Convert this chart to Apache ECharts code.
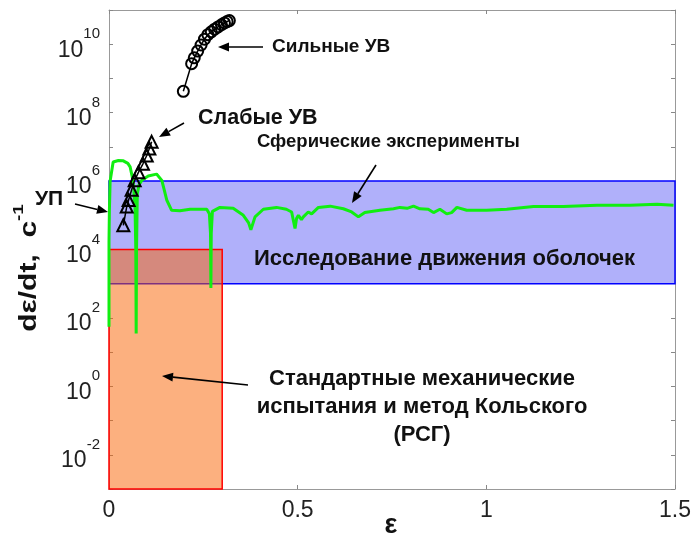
<!DOCTYPE html>
<html><head><meta charset="utf-8">
<script src="https://cdn.jsdelivr.net/npm/echarts@6/dist/echarts.min.js"></script>
<style>html,body{margin:0;padding:0;background:#fff}#c{width:697px;height:540px}</style>
</head><body><div id="c"></div>
<script>
// ---- data ----
const xTicks = [0, 0.5, 1, 1.5];
const yRange = [1e-3, 1e11];

// "Сферические эксперименты" (green)
const sphericalEps = [0.000,0.000,0.001,0.003,0.011,0.025,0.038,0.050,0.056,0.064,0.069,0.071,0.072,0.073,0.075,0.080,0.087,0.104,0.126,0.140,0.153,0.166,0.188,0.215,0.241,0.259,0.266,0.269,0.270,0.271,0.274,0.294,0.329,0.356,0.370,0.376,0.387,0.409,0.444,0.470,0.484,0.493,0.497,0.502,0.510,0.515,0.528,0.537,0.555,0.586,0.621,0.643,0.661,0.678,0.718,0.754,0.771,0.790,0.807,0.824,0.846,0.860,0.877,0.895,0.908,0.922,0.948,1.001,1.054,1.125,1.204,1.293,1.381,1.452,1.496];
const sphericalRate = [55,1.7e4,1.3e5,1.0e6,3.6e6,4.0e6,3.9e6,3.3e6,2.6e6,1.0e6,1.7e5,1.0e4,35,1.0e4,4.3e5,8.0e5,1.05e6,1.4e6,1.6e6,1.05e6,2.8e5,1.4e5,1.35e5,1.5e5,1.5e5,1.5e5,1.1e5,3.0e4,750,3.0e4,1.3e5,1.7e5,1.6e5,1.0e5,6.0e4,3.8e4,9.0e4,1.5e5,1.7e5,1.5e5,1.25e5,4.1e4,8.0e4,1.0e5,7.5e4,9.0e4,1.25e5,1.1e5,1.7e5,1.85e5,1.55e5,1.25e5,9.0e4,1.2e5,1.4e5,1.55e5,1.7e5,1.6e5,1.85e5,1.55e5,1.5e5,1.2e5,1.5e5,1.1e5,1.2e5,1.7e5,1.4e5,1.4e5,1.5e5,1.8e5,1.8e5,1.95e5,1.95e5,2.1e5,1.95e5];

// "Сильные УВ" (circles)
const strongEps = [0.197,0.219,0.226,0.235,0.244,0.253,0.262,0.271,0.280,0.289,0.298,0.306,0.313,0.319];
const strongRate = [4.2e8,2.7e9,4.0e9,6.3e9,9.5e9,1.4e10,1.9e10,2.3e10,2.75e10,3.2e10,3.7e10,4.2e10,4.6e10,4.9e10];

// "Слабые УВ" (triangles)
const weakEps = [0.038,0.047,0.052,0.060,0.068,0.078,0.090,0.100,0.107,0.113];
const weakRate = [5.1e4,1.8e5,2.8e5,5.6e5,1.05e6,1.8e6,3.2e6,5.6e6,8.9e6,1.4e7];

// regions
const shellEps = [0, 1.5];      // "Исследование движения оболочек"
const shellRate = [1e3, 1e6];
const kolskyEps = [0, 0.3];     // "Стандартные механические испытания..."
const kolskyRate = [1e-3, 1e4];

// ---- chart ----
const FONT = 'Liberation Sans, Arial, sans-serif';
const zip = (a, b) => a.map((v, i) => [v, b[i]]);
const chart = echarts.init(document.getElementById('c'), null, {renderer: 'canvas'});

function arrow(x1, y1, x2, y2) {
  const ang = Math.atan2(y2 - y1, x2 - x1), L = 11, W = 4.5;
  const bx = x2 - L * Math.cos(ang), by = y2 - L * Math.sin(ang);
  const px = -Math.sin(ang) * W, py = Math.cos(ang) * W;
  return [
    {type: 'line', z: 100, shape: {x1, y1, x2: bx, y2: by}, style: {stroke: '#000', lineWidth: 1.6}},
    {type: 'polygon', z: 100, shape: {points: [[x2, y2], [bx + px, by + py], [bx - px, by - py]]}, style: {fill: '#000'}}
  ];
}
function label(text, x, y, size, weight, align) {
  return {type: 'text', x, y, z: 100, style: {text, font: weight + ' ' + size + 'px ' + FONT,
    fill: '#111', align: align || 'left', verticalAlign: 'middle', lineHeight: 28}};
}

const tickStyle = {show: true, inside: true, length: 4, lineStyle: {color: '#888'}};
const lineStyle = {show: true, onZero: false, lineStyle: {color: '#999', width: 1}};

chart.setOption({
  animation: false,
  backgroundColor: '#fff',
  grid: {left: 109, right: 22, top: 10, bottom: 51, containLabel: false, outerBoundsMode: 'none'},
  xAxis: [
    {type: 'value', min: xTicks[0], max: xTicks[xTicks.length - 1], interval: 0.5,
     axisLine: lineStyle, axisTick: tickStyle, splitLine: {show: false},
     axisLabel: {margin: 10, fontSize: 23, color: '#222', fontFamily: FONT}},
    {type: 'value', position: 'top', min: xTicks[0], max: xTicks[xTicks.length - 1], interval: 0.5,
     axisLine: lineStyle, axisTick: tickStyle, axisLabel: {show: false}, splitLine: {show: false}}
  ],
  yAxis: [
    {type: 'log', logBase: 10, min: yRange[0], max: yRange[1], interval: 1,
     axisLine: lineStyle, axisTick: tickStyle, splitLine: {show: false},
     axisLabel: {margin: 9, fontFamily: FONT,
       formatter: v => { const e = Math.round(Math.log10(v)); return e % 2 === 0 ? '{b|10}{e|' + e + '}' : ''; },
       rich: {
         b: {fontSize: 23, color: '#222', fontFamily: FONT, lineHeight: 35, verticalAlign: 'bottom'},
         e: {fontSize: 15, color: '#222', fontFamily: FONT, lineHeight: 15, verticalAlign: 'top'}
       }}},
    {type: 'log', logBase: 10, position: 'right', min: yRange[0], max: yRange[1], interval: 1,
     axisLine: lineStyle, axisTick: tickStyle, axisLabel: {show: false}, splitLine: {show: false}}
  ],
  series: [
    {type: 'line', data: [], silent: true, z: 1,
     markArea: {silent: true, label: {show: false}, data: [
       [{xAxis: shellEps[0], yAxis: shellRate[0], itemStyle: {color: '#b0b0fa', borderColor: '#0000ff', borderWidth: 1.5, opacity: 1}},
        {xAxis: shellEps[1], yAxis: shellRate[1]}],
       [{xAxis: kolskyEps[0], yAxis: kolskyRate[0], itemStyle: {color: 'rgba(249,98,0,0.5)', borderColor: '#ff0000', borderWidth: 1.5, opacity: 1}},
        {xAxis: kolskyEps[1], yAxis: kolskyRate[1]}]
     ]}},
    {name: 'Сферические эксперименты', type: 'line', data: zip(sphericalEps, sphericalRate), z: 3,
     showSymbol: false, symbol: 'none', lineStyle: {color: '#11ee11', width: 3}},
    {name: 'Слабые УВ', type: 'line', data: zip(weakEps, weakRate), z: 4,
     symbol: 'triangle', symbolSize: 12,
     itemStyle: {color: 'rgba(0,0,0,0)', borderColor: '#000', borderWidth: 2},
     lineStyle: {color: '#000', width: 1.5}},
    {name: 'Сильные УВ', type: 'line', data: zip(strongEps, strongRate), z: 4,
     symbol: 'circle', symbolSize: 11,
     itemStyle: {color: 'rgba(0,0,0,0)', borderColor: '#000', borderWidth: 2},
     lineStyle: {color: '#000', width: 1.5}}
  ],
  graphic: [
    {type: 'text', x: 26, y: 268, rotation: Math.PI / 2, scaleX: 1.25, z: 100,
     style: {text: '{a|dε/dt,  с}{s|-1}', align: 'center', verticalAlign: 'middle',
       rich: {a: {font: 'bold 24px ' + FONT, fill: '#111', lineHeight: 30, verticalAlign: 'bottom'},
              s: {font: 'bold 15px ' + FONT, fill: '#111', lineHeight: 15, verticalAlign: 'top'}}}},
    label('ε', 391, 526, 27, 'bold', 'center'),
    label('Сильные УВ', 272, 47, 19, 'bold'),
    label('Слабые УВ', 198, 118, 21.5, 'bold'),
    label('Сферические эксперименты', 257, 142, 18.5, 'bold'),
    label('УП', 35, 199, 21, 'bold'),
    label('Исследование движения оболочек', 254, 259, 22, 'bold'),
    label('Стандартные механические\nиспытания и метод Кольского\n(РСГ)', 422, 407, 22, 'bold', 'center'),
    ...arrow(263, 47, 218, 47),
    ...arrow(184, 123, 159, 137),
    ...arrow(376, 165, 352, 203),
    ...arrow(75, 204, 108, 212),
    ...arrow(248, 385, 162, 376)
  ]
});
</script></body></html>
